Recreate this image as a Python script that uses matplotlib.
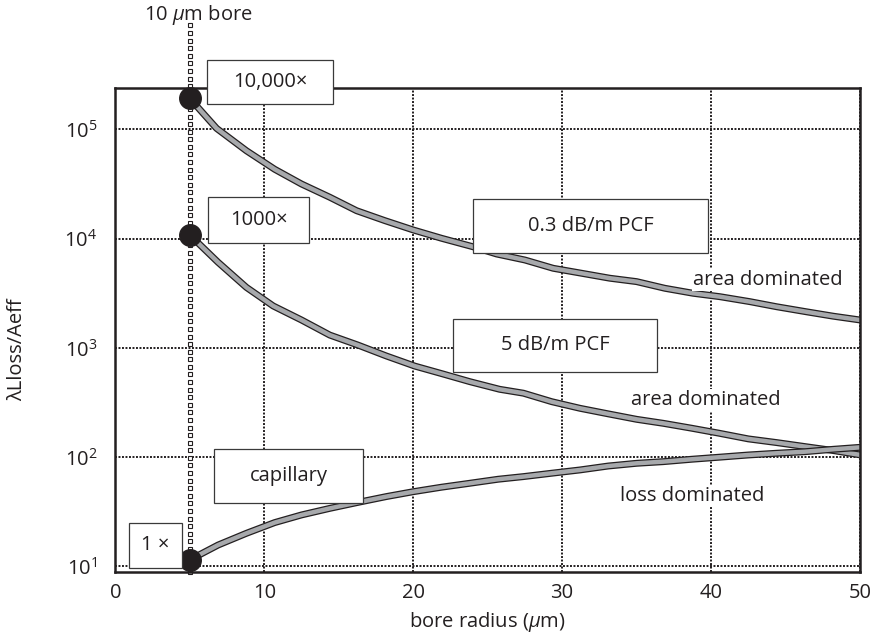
import numpy as np
import matplotlib.pyplot as plt
import matplotlib.patheffects as pe
from matplotlib.patches import Rectangle
from matplotlib.ticker import FixedLocator, NullLocator, LogFormatterMathtext

plt.rcParams['font.family'] = 'Open Sans'
plt.rcParams['mathtext.fontset'] = 'custom'
plt.rcParams['mathtext.rm'] = 'Open Sans'
plt.rcParams['mathtext.it'] = 'Open Sans:italic'

W, H = 879, 636
ink = '#231f20'

#================ data ========================================
bore_radius = 5  # 10 um bore

r_03 = [5, 6.8, 8.8, 10.7, 12.5, 14.4, 16.2, 18.1, 20.0, 21.9, 24.0, 25.6, 27.5, 29.4,
        31.3, 33.2, 35.0, 36.9, 38.8, 40.6, 42.6, 44.4, 46.4, 48.2, 50]
pcf_03 = [1.92e5, 1.02e5, 6.37e4, 4.31e4, 3.16e4, 2.39e4, 1.80e4, 1.46e4, 1.20e4, 1.007e4,
          8430, 7230, 6370, 5350, 4820, 4340, 4040, 3510, 3160, 2940, 2650, 2380, 2140, 1950, 1800]

r_5 = [5, 6.9, 8.8, 10.6, 12.5, 14.4, 16.3, 18.2, 20.1, 22.0, 23.8, 25.8, 27.4, 29.3,
       31.2, 33.1, 35.0, 36.8, 38.7, 40.5, 42.5, 44.4, 46.3, 48.2, 50]
pcf_5 = [1.08e4, 6070, 3580, 2420, 1800, 1310, 1060, 843, 682, 577, 491, 418, 385, 322,
         280, 249, 222, 204, 184, 166, 147, 136, 125, 115, 105]

r_cap = [5, 6.9, 8.8, 10.7, 12.5, 14.4, 16.3, 18.2, 20.0, 21.9, 23.8, 25.7, 27.4, 29.3,
         31.2, 33.1, 35.0, 36.8, 38.7, 40.5, 42.5, 44.4, 46.3, 48.2, 50]
capillary = [11.5, 15.7, 20.1, 25.2, 29.6, 34.0, 38.6, 43.6, 48.3, 53.1, 57.7, 62.8, 66.4, 71.3,
             76.4, 83.0, 87.9, 91.0, 95.7, 99.8, 104.7, 108.6, 112.2, 118.0, 123.0]

x_ticks = [0, 10, 20, 30, 40, 50]
y_ticks = [1e1, 1e2, 1e3, 1e4, 1e5]

# boxed labels: text, left, right, top, bottom (figure pixels)
boxes = [('10,000\u00d7', 207, 333, 60, 104),
         ('1000\u00d7', 208, 309, 197, 243),
         ('0.3 dB/m PCF', 473, 708, 199, 253),
         ('5 dB/m PCF', 453, 657, 319, 372),
         ('capillary', 214, 363, 449, 503),
         ('1 \u00d7', 129, 182, 523, 568)]

# free labels: text, x, y (figure pixels)
notes = [('area dominated', 768, 280),
         ('area dominated', 706, 400),
         ('loss dominated', 692, 496)]
#==============================================================

fs = 14.5

fig = plt.figure(figsize=(W/100, H/100), dpi=100)
ax = fig.add_axes([115.3/W, 1-571.7/H, 744.7/W, 483.7/H])
ax.set_yscale('log')
ax.set_xlim(0, 50)
ax.set_ylim(10**0.952, 10**5.378)

ax.xaxis.set_major_locator(FixedLocator(x_ticks))
ax.yaxis.set_major_locator(FixedLocator(y_ticks))
ax.yaxis.set_major_formatter(LogFormatterMathtext())
ax.yaxis.set_minor_locator(NullLocator())
ax.tick_params(axis='both', length=0, labelsize=fs, colors=ink)
ax.tick_params(axis='y', pad=13)
ax.tick_params(axis='x', pad=8)
for s in ax.spines.values():
    s.set_linewidth(1.8)
    s.set_color(ink)
    s.set_zorder(6)

ax.grid(True, which='major', color=ink, linestyle=(0, (1, 0.8)), linewidth=1.4)

# dotted bore line made of little hollow squares
ys = np.logspace(0.952, 5.95, 73)
ax.plot(np.full_like(ys, bore_radius), ys, ls='none', marker='s', ms=3.3,
        mfc='white', mec=ink, mew=0.8, clip_on=False, zorder=2.5)

# the three curves, grey with dark outline
outline = [pe.Stroke(linewidth=5.0, foreground=ink), pe.Normal()]
for x, y in [(r_03, pcf_03), (r_5, pcf_5), (r_cap, capillary)]:
    ax.plot(x, y, color='#a7a9ac', lw=3.2, solid_capstyle='butt',
            path_effects=outline, zorder=3)
    ax.plot(x[0], y[0], 'o', ms=15.5, color=ink, zorder=4, clip_on=False)

for label, l, r, t, b in boxes:
    ax.add_patch(Rectangle((l/W, 1-b/H), (r-l)/W, (b-t)/H, transform=fig.transFigure,
                           fc='white', ec='#3a3a3a', lw=0.9, zorder=7, clip_on=False))
    ax.text((l+r)/2/W, 1-(t+b)/2/H, label, transform=fig.transFigure, ha='center',
            va='center', fontsize=fs, color=ink, zorder=8)

for label, x, y in notes:
    ax.text(x/W, 1-y/H, label, transform=fig.transFigure, ha='center', va='center',
            fontsize=fs, color=ink, zorder=8,
            bbox=dict(fc='white', ec='none', pad=1))

fig.text(198/W, 1-15/H, '10 $\\mu$m bore', ha='center', va='center', fontsize=fs, color=ink)
fig.text(487/W, 1-622/H, 'bore radius ($\\mu$m)', ha='center', va='center', fontsize=fs, color=ink)
fig.text(17/W, 1-350/H, '\u03bbLloss/Aeff', ha='center', va='center', rotation=90,
         fontsize=fs, color=ink)

fig.savefig('out.png', dpi=100)
